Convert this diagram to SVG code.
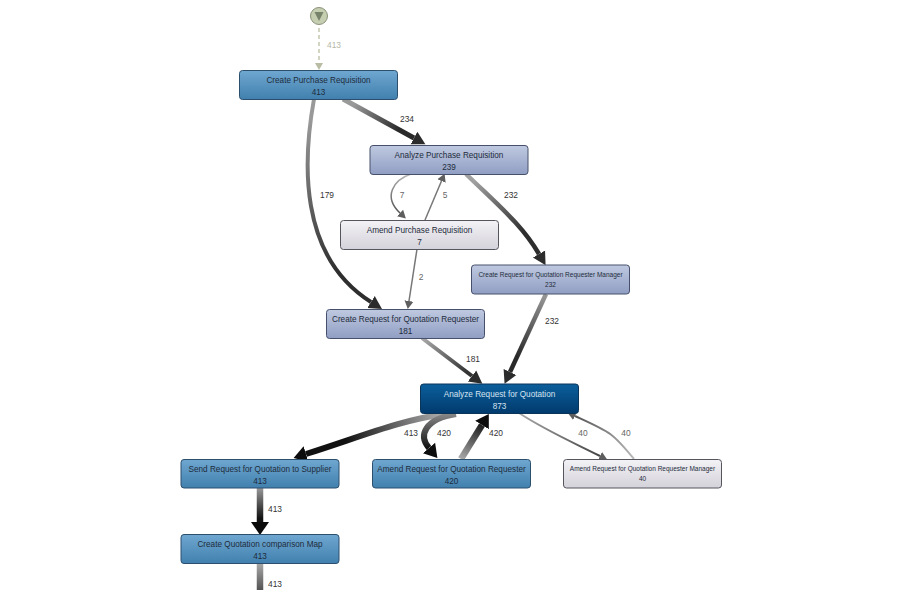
<svg xmlns="http://www.w3.org/2000/svg" width="900" height="590" viewBox="0 0 900 590">
<style>
text{font-family:"Liberation Sans",Arial,sans-serif;font-size:8.200px;text-anchor:middle;fill:#1d2c3c}
.sm{font-size:6.500px}
.lt{fill:#d5e3f0}
.el{fill:#333;font-size:8.400px}
.eg{fill:#666;font-size:8.400px}
.et{fill:#b5b8a6;font-size:8.400px}
rect{stroke-width:1;rx:3;ry:3}
.blue{fill:url(#gBlue);stroke:#2c4f6e}
.peri{fill:url(#gPeri);stroke:#46506b}
.pale{fill:url(#gPale);stroke:#55555e}
.deep{fill:url(#gDeep);stroke:#0a3558}
.e{fill:none}
</style>
<defs>
<linearGradient id="gBlue" x1="0" y1="0" x2="0" y2="1"><stop offset="0" stop-color="#6fa7d0"/><stop offset="1" stop-color="#4180ae"/></linearGradient>
<linearGradient id="gPeri" x1="0" y1="0" x2="0" y2="1"><stop offset="0" stop-color="#bfc9e0"/><stop offset="1" stop-color="#909ec3"/></linearGradient>
<linearGradient id="gPale" x1="0" y1="0" x2="0" y2="1"><stop offset="0" stop-color="#f3f2f5"/><stop offset="1" stop-color="#d4d2da"/></linearGradient>
<linearGradient id="gDeep" x1="0" y1="0" x2="0" y2="1"><stop offset="0" stop-color="#0b5f9c"/><stop offset="1" stop-color="#013a6d"/></linearGradient>
<linearGradient id="e1" gradientUnits="userSpaceOnUse" x1="343" y1="99" x2="413" y2="137"><stop offset="0.15" stop-color="#999"/><stop offset="0.8" stop-color="#2a2a2a"/></linearGradient>
<linearGradient id="e2" gradientUnits="userSpaceOnUse" x1="310" y1="120" x2="370" y2="302"><stop offset="0" stop-color="#999"/><stop offset="0.8" stop-color="#2e2e2e"/></linearGradient>
<linearGradient id="e3" gradientUnits="userSpaceOnUse" x1="466" y1="174" x2="540" y2="255"><stop offset="0.1" stop-color="#a0a0a0"/><stop offset="0.75" stop-color="#2e2e2e"/></linearGradient>
<linearGradient id="e4" gradientUnits="userSpaceOnUse" x1="546" y1="294" x2="510" y2="372"><stop offset="0" stop-color="#999"/><stop offset="0.8" stop-color="#2a2a2a"/></linearGradient>
<linearGradient id="e5" gradientUnits="userSpaceOnUse" x1="422" y1="338" x2="472" y2="376"><stop offset="0" stop-color="#aaa"/><stop offset="0.9" stop-color="#333"/></linearGradient>
<linearGradient id="e6" gradientUnits="userSpaceOnUse" x1="440" y1="414" x2="305" y2="455"><stop offset="0" stop-color="#aaa"/><stop offset="0.7" stop-color="#111"/></linearGradient>
<linearGradient id="e7" gradientUnits="userSpaceOnUse" x1="0" y1="414" x2="0" y2="448"><stop offset="0" stop-color="#888"/><stop offset="1" stop-color="#111"/></linearGradient>
<linearGradient id="e8" gradientUnits="userSpaceOnUse" x1="461" y1="459" x2="481" y2="426"><stop offset="0" stop-color="#aaa"/><stop offset="1" stop-color="#222"/></linearGradient>
<linearGradient id="e9" gradientUnits="userSpaceOnUse" x1="260" y1="488" x2="260" y2="522"><stop offset="0" stop-color="#999"/><stop offset="0.9" stop-color="#111"/></linearGradient>
<linearGradient id="e10" gradientUnits="userSpaceOnUse" x1="260" y1="563" x2="260" y2="600"><stop offset="0" stop-color="#aaa"/><stop offset="1" stop-color="#333"/></linearGradient>
<linearGradient id="e11" gradientUnits="userSpaceOnUse" x1="519" y1="413" x2="600" y2="456"><stop offset="0" stop-color="#aaa"/><stop offset="1" stop-color="#444"/></linearGradient>
<linearGradient id="e12" gradientUnits="userSpaceOnUse" x1="634" y1="459" x2="575" y2="416"><stop offset="0" stop-color="#bbb"/><stop offset="1" stop-color="#555"/></linearGradient>
<linearGradient id="e13" gradientUnits="userSpaceOnUse" x1="411" y1="174" x2="401" y2="214"><stop offset="0" stop-color="#bbb"/><stop offset="1" stop-color="#555"/></linearGradient>
<marker id="hBig" markerUnits="userSpaceOnUse" markerWidth="14" markerHeight="20" refX="0" refY="10" orient="auto"><polygon points="0,1 13,10 0,19" fill="#0a0a0a"/></marker>
<marker id="hBlk" markerUnits="userSpaceOnUse" markerWidth="14" markerHeight="18" refX="0" refY="9" orient="auto"><polygon points="0,1 13,9 0,17" fill="#0d0d0d"/></marker>
<marker id="hDrk" markerUnits="userSpaceOnUse" markerWidth="14" markerHeight="16" refX="0" refY="8" orient="auto"><polygon points="0,1 13,8 0,15" fill="#2c2c2c"/></marker>
<marker id="hGry" markerUnits="userSpaceOnUse" markerWidth="9" markerHeight="11" refX="0" refY="5.500" orient="auto"><polygon points="0,1 8,5.500 0,10" fill="#5e5e5e"/></marker>
<marker id="hTan" markerUnits="userSpaceOnUse" markerWidth="9" markerHeight="10" refX="0" refY="5" orient="auto"><polygon points="0,1 7,5 0,9" fill="#b9bda4"/></marker>
</defs>
<rect width="900" height="590" style="fill:#fff;stroke:none;rx:0;ry:0"/>
<g id="connectors">
<path class="e" d="M319 28V63" stroke="#c3c7ae" stroke-width="1.500" stroke-dasharray="4 3" marker-end="url(#hTan)"/>
<path class="e" d="M343 99L414 138" stroke="url(#e1)" stroke-width="5" marker-end="url(#hDrk)"/>
<path class="e" d="M314 99C303 160 298 256 371 302" stroke="url(#e2)" stroke-width="4" marker-end="url(#hDrk)"/>
<path class="e" d="M411 174C393 180 383 197 400 213" stroke="url(#e13)" stroke-width="1.500" marker-end="url(#hGry)"/>
<path class="e" d="M425 220L441.500 181" stroke="#777" stroke-width="1.500" marker-end="url(#hGry)"/>
<path class="e" d="M417 249L409 301" stroke="#777" stroke-width="1.500" marker-end="url(#hGry)"/>
<path class="e" d="M466 174C500 207 522 225 539 254" stroke="url(#e3)" stroke-width="4.500" marker-end="url(#hDrk)"/>
<path class="e" d="M546 294L510 372" stroke="url(#e4)" stroke-width="4.500" marker-end="url(#hDrk)"/>
<path class="e" d="M422 338L472 376" stroke="url(#e5)" stroke-width="4" marker-end="url(#hDrk)"/>
<path class="e" d="M445 414C400 420 360 437 306 454" stroke="url(#e6)" stroke-width="6" marker-end="url(#hBlk)"/>
<path class="e" d="M456 414C425 419 418 435 429 448" stroke="url(#e7)" stroke-width="6" marker-end="url(#hBlk)"/>
<path class="e" d="M461 459L482 425" stroke="url(#e8)" stroke-width="6.500" marker-end="url(#hBlk)"/>
<path class="e" d="M519 413C545 430 570 441 600 456" stroke="url(#e11)" stroke-width="2" marker-end="url(#hGry)"/>
<path class="e" d="M634 459C612 432 610 432 575 416" stroke="url(#e12)" stroke-width="2" marker-end="url(#hGry)"/>
<path class="e" d="M260 488V522" stroke="url(#e9)" stroke-width="6.500" marker-end="url(#hBig)"/>
<path class="e" d="M260 563V590" stroke="url(#e10)" stroke-width="6.500"/>
</g>
<g id="edge-labels">
<text class="et" x="334" y="48">413</text>
<text class="el" x="407" y="122">234</text>
<text class="el" x="327" y="198">179</text>
<text class="eg" x="402" y="198">7</text>
<text class="eg" x="445" y="198">5</text>
<text class="el" x="511" y="198">232</text>
<text class="eg" x="421" y="280">2</text>
<text class="el" x="552" y="324">232</text>
<text class="el" x="473" y="362">181</text>
<text class="el" x="411" y="436">413</text>
<text class="el" x="444" y="436">420</text>
<text class="el" x="496" y="436">420</text>
<text class="eg" x="583" y="436">40</text>
<text class="eg" x="626" y="436">40</text>
<text class="el" x="275" y="512">413</text>
<text class="el" x="275" y="587">413</text>
</g>
<g id="start"><circle cx="319" cy="16" r="8.500" fill="#c6ceb2" stroke="#8a9279"/><polygon points="314.500,12 323.500,12 319,21" fill="#77836a"/></g>
<g id="n-create-pr"><rect class="blue" x="239.500" y="70.500" width="158" height="29"/><text x="318.500" y="82.500">Create Purchase Requisition</text><text x="318.500" y="94.500">413</text></g>
<g id="n-analyze-pr"><rect class="peri" x="370" y="145.500" width="158" height="29"/><text x="449" y="157.500">Analyze Purchase Requisition</text><text x="449" y="169.500">239</text></g>
<g id="n-amend-pr"><rect class="pale" x="340.500" y="220.500" width="158" height="29"/><text x="419.500" y="233">Amend Purchase Requisition</text><text x="419.500" y="244.500">7</text></g>
<g id="n-crq-mgr"><rect class="peri" x="471.500" y="265" width="158" height="29"/><text class="sm" x="550.500" y="277">Create Request for Quotation Requester Manager</text><text class="sm" x="550.500" y="287">232</text></g>
<g id="n-crq-req"><rect class="peri" x="326.500" y="309.500" width="158" height="29"/><text x="405.500" y="321.500">Create Request for Quotation Requester</text><text x="405.500" y="333.500">181</text></g>
<g id="n-analyze-rfq"><rect class="deep" x="420.500" y="384" width="158" height="29.500"/><text class="lt" x="499.500" y="396.500">Analyze Request for Quotation</text><text class="lt" x="499.500" y="408.500">873</text></g>
<g id="n-send"><rect class="blue" x="181" y="459.500" width="158" height="28.500"/><text x="260" y="471.500">Send Request for Quotation to Supplier</text><text x="260" y="483.500">413</text></g>
<g id="n-amend-req"><rect class="blue" x="372.500" y="459.500" width="158" height="28.500"/><text x="451.500" y="471.500">Amend Request for Quotation Requester</text><text x="451.500" y="483.500">420</text></g>
<g id="n-amend-mgr"><rect class="pale" x="563.500" y="459.500" width="158" height="28.500"/><text class="sm" x="642.500" y="471">Amend Request for Quotation Requester Manager</text><text class="sm" x="642.500" y="481">40</text></g>
<g id="n-comparison"><rect class="blue" x="181" y="534.500" width="158" height="29"/><text x="260" y="547">Create Quotation comparison Map</text><text x="260" y="558.500">413</text></g>
</svg>
